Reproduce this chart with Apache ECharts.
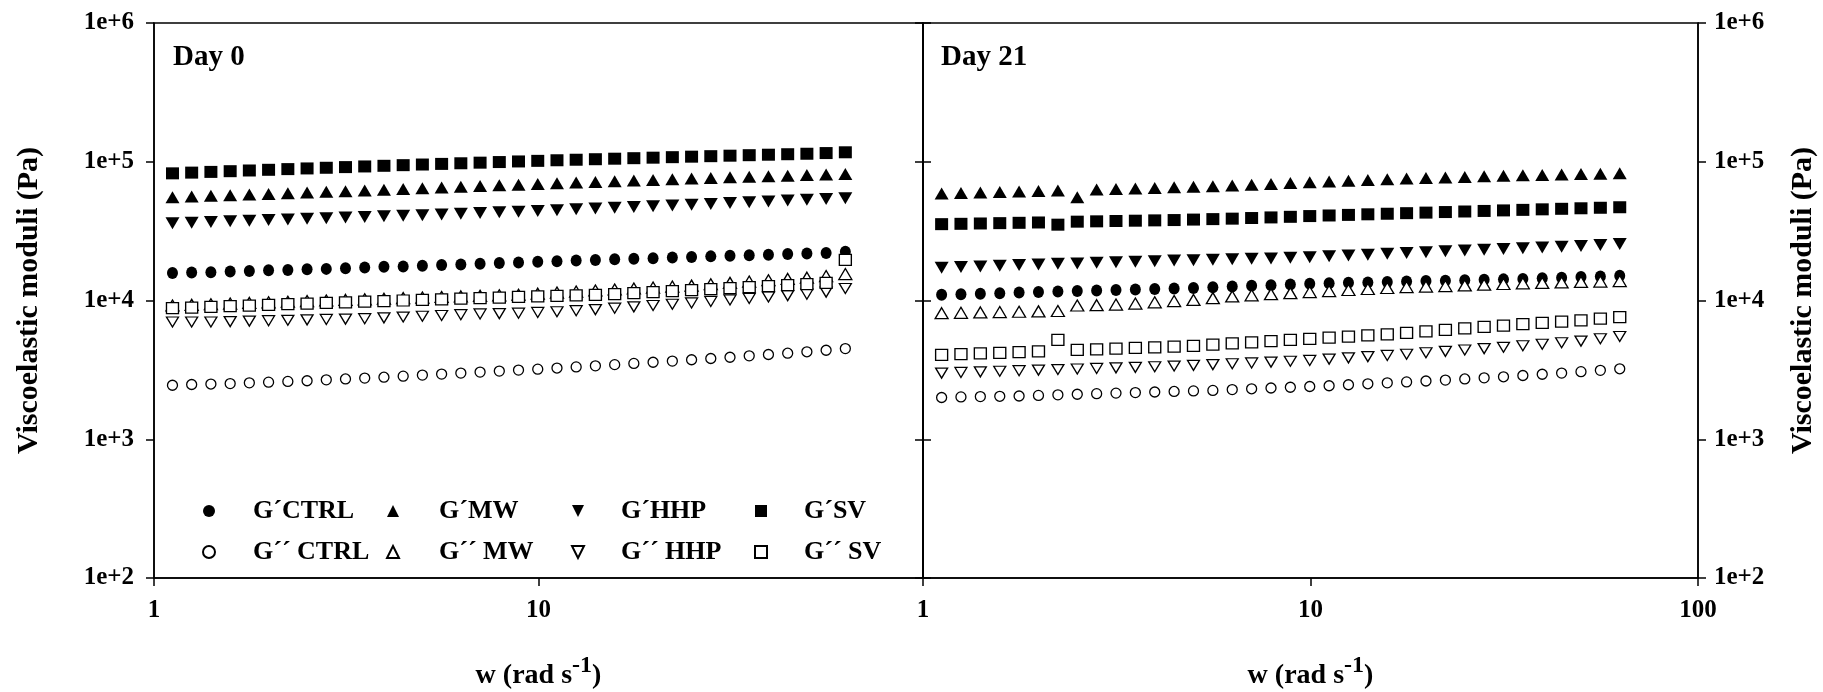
<!DOCTYPE html>
<html>
<head>
<meta charset="utf-8">
<script src="https://cdn.jsdelivr.net/npm/echarts@6/dist/echarts.min.js"></script>
<style>
  html, body { margin: 0; background: #fff; }
  #chart { width: 1823px; height: 692px; }
</style>
</head>
<body>
<div id="chart"></div>
<script>
// frequency sweep (rad/s), same for both days
const freq = [1.117, 1.253, 1.406, 1.578, 1.770, 1.986, 2.229, 2.501, 2.806, 3.148, 3.532, 3.963,
  4.447, 4.989, 5.598, 6.281, 7.048, 7.908, 8.872, 9.955, 11.17, 12.53, 14.06, 15.78,
  17.70, 19.86, 22.29, 25.01, 28.06, 31.48, 35.32, 39.63, 44.47, 49.89, 55.98, 62.81];

// Day 0 (values in Pa)
const d0GpCtrl = [15800, 15900, 16000, 16200, 16300, 16500, 16600, 16800, 16900, 17100, 17300, 17500,
  17600, 17800, 18000, 18200, 18400, 18600, 18800, 19000, 19200, 19400, 19600, 19800,
  20000, 20200, 20400, 20600, 20800, 21000, 21200, 21400, 21600, 21800, 22000, 22500];
const d0GppCtrl = [2450, 2480, 2500, 2520, 2550, 2580, 2610, 2640, 2680, 2720, 2760, 2800,
  2850, 2900, 2950, 3000, 3050, 3100, 3150, 3200, 3260, 3320, 3380, 3450,
  3520, 3590, 3660, 3740, 3820, 3900, 3990, 4080, 4170, 4270, 4380, 4500];
const d0GpMw = [55500, 56200, 56800, 57400, 58000, 58600, 59300, 60000, 60700, 61400, 62100, 62900,
  63600, 64400, 65200, 66000, 66800, 67600, 68400, 69200, 70000, 70800, 71600, 72400,
  73200, 74000, 74800, 75600, 76400, 77200, 78000, 78700, 79400, 80100, 80900, 81700];
const d0GppMw = [9200, 9300, 9400, 9500, 9600, 9700, 9800, 9900, 10000, 10100, 10200, 10300,
  10400, 10500, 10600, 10700, 10800, 10900, 11000, 11200, 11400, 11600, 11800, 12000,
  12200, 12400, 12600, 12800, 13100, 13400, 13700, 14000, 14300, 14600, 15000, 15500];
const d0GpHhp = [36000, 36400, 36800, 37200, 37600, 38000, 38400, 38800, 39200, 39600, 40000, 40400,
  40800, 41200, 41700, 42200, 42700, 43200, 43700, 44200, 44800, 45400, 46000, 46600,
  47200, 47800, 48400, 49000, 49700, 50400, 51100, 51800, 52500, 53200, 53900, 54600];
const d0GppHhp = [7000, 7000, 7000, 7050, 7100, 7150, 7200, 7250, 7300, 7350, 7400, 7500,
  7600, 7700, 7800, 7900, 8000, 8050, 8100, 8200, 8300, 8450, 8600, 8800,
  9000, 9200, 9400, 9600, 9850, 10100, 10350, 10600, 10850, 11100, 11500, 12200];
const d0GpSv = [82500, 83500, 84500, 85500, 86500, 87500, 88500, 89500, 90500, 91500, 92500, 93500,
  94500, 95500, 96500, 97500, 98500, 99500, 100500, 101500, 102500, 103400, 104300, 105200,
  106100, 107000, 107900, 108800, 109700, 110600, 111500, 112400, 113300, 114200, 115500, 117000];
const d0GppSv = [8800, 8900, 9000, 9100, 9200, 9300, 9400, 9500, 9600, 9700, 9800, 9900,
  10000, 10100, 10200, 10300, 10400, 10500, 10600, 10700, 10800, 10900, 11000, 11100,
  11300, 11500, 11700, 11900, 12100, 12300, 12500, 12700, 12900, 13100, 13400, 19600];

// Day 21 (values in Pa)
const d21GpCtrl = [11000, 11100, 11200, 11300, 11400, 11500, 11600, 11700, 11800, 11900, 12000, 12100,
  12200, 12300, 12450, 12600, 12750, 12900, 13050, 13200, 13300, 13400, 13500, 13600,
  13700, 13800, 13900, 14000, 14100, 14200, 14300, 14450, 14600, 14750, 14900, 15100];
const d21GppCtrl = [2000, 2020, 2030, 2040, 2050, 2070, 2090, 2110, 2130, 2150, 2170, 2190,
  2210, 2230, 2250, 2280, 2310, 2340, 2370, 2400, 2430, 2470, 2510, 2550,
  2590, 2630, 2670, 2720, 2770, 2820, 2880, 2940, 3000, 3070, 3140, 3220];
const d21GpMw = [59000, 59500, 60000, 60500, 61000, 61500, 62000, 55500, 63000, 63600, 64200, 64800,
  65400, 66000, 66700, 67400, 68300, 69200, 70200, 71200, 72200, 73100, 74000, 74800,
  75600, 76400, 77100, 77800, 78500, 79200, 79800, 80400, 81000, 81500, 82000, 82600];
const d21GppMw = [8100, 8150, 8200, 8250, 8300, 8350, 8400, 9200, 9250, 9350, 9500, 9700,
  9900, 10100, 10400, 10700, 10900, 11100, 11300, 11500, 11700, 11900, 12100, 12300,
  12500, 12600, 12700, 12850, 13000, 13150, 13300, 13400, 13500, 13600, 13700, 13800];
const d21GpHhp = [17200, 17400, 17600, 17800, 18000, 18200, 18400, 18500, 18700, 18900, 19000, 19200,
  19400, 19500, 19700, 19800, 20000, 20100, 20300, 20500, 20800, 21100, 21400, 21700,
  22000, 22300, 22600, 22900, 23200, 23500, 23800, 24100, 24400, 24700, 25100, 25500];
const d21GppHhp = [3000, 3030, 3060, 3090, 3120, 3150, 3180, 3210, 3240, 3270, 3300, 3330,
  3370, 3410, 3450, 3500, 3550, 3600, 3650, 3700, 3780, 3860, 3940, 4020,
  4100, 4200, 4300, 4400, 4500, 4600, 4720, 4840, 4960, 5100, 5300, 5500];
const d21GpSv = [35500, 35700, 35900, 36100, 36300, 36500, 35200, 37000, 37200, 37400, 37600, 37800,
  38000, 38300, 38600, 38900, 39300, 39700, 40100, 40600, 41000, 41400, 41800, 42200,
  42600, 43000, 43400, 43800, 44200, 44600, 45000, 45400, 45800, 46200, 46600, 47000];
const d21GppSv = [4050, 4100, 4150, 4200, 4250, 4300, 5200, 4400, 4450, 4500, 4550, 4600,
  4650, 4700, 4800, 4900, 5000, 5100, 5200, 5300, 5400, 5500, 5600, 5700,
  5850, 6000, 6150, 6300, 6450, 6600, 6750, 6900, 7050, 7200, 7400, 7600];

const yTicks = ['1e+2', '1e+3', '1e+4', '1e+5', '1e+6'];
const names = ['G´CTRL', 'G´´ CTRL', 'G´MW', 'G´´ MW', 'G´HHP', 'G´´ HHP', 'G´SV', 'G´´ SV'];

const FONT = 'Liberation Serif';
const downTri = 'path://M0,0L2,0L1,2Z';

// 符号设置: [symbol, size, filled]
const marks = {
  'G´CTRL': ['circle', [11, 12], true],
  'G´´ CTRL': ['circle', [10, 10], false],
  'G´MW': ['triangle', [14, 12], true],
  'G´´ MW': ['triangle', [13, 11], false],
  'G´HHP': [downTri, [14, 12], true],
  'G´´ HHP': [downTri, [12, 10], false],
  'G´SV': ['rect', [13, 12], true],
  'G´´ SV': ['rect', [12, 11], false]
};

const day0 = [d0GpCtrl, d0GppCtrl, d0GpMw, d0GppMw, d0GpHhp, d0GppHhp, d0GpSv, d0GppSv];
const day21 = [d21GpCtrl, d21GppCtrl, d21GpMw, d21GppMw, d21GpHhp, d21GppHhp, d21GpSv, d21GppSv];

function makeSeries(name, vals, gridIdx) {
  const m = marks[name];
  return {
    name: name,
    type: 'scatter',
    xAxisIndex: gridIdx,
    yAxisIndex: gridIdx === 0 ? 0 : 2,
    symbol: m[0],
    symbolSize: m[1],
    itemStyle: m[2]
      ? { color: '#000', opacity: 1 }
      : { color: '#fff', borderColor: '#000', borderWidth: 1.3, opacity: 1 },
    data: freq.map((f, i) => [f, vals[i]])
  };
}

const series = [];
names.forEach((n, i) => series.push(makeSeries(n, day0[i], 0)));
names.forEach((n, i) => series.push(makeSeries(n, day21[i], 1)));

const lineStyle = { color: '#000', width: 1.5 };
const labelFont = { fontFamily: FONT, fontWeight: 'bold', fontSize: 25, color: '#000' };

function xAx(gridIdx) {
  return {
    type: 'log', logBase: 10, min: 1, max: 100, gridIndex: gridIdx,
    axisLine: { show: true, lineStyle: lineStyle },
    axisTick: { show: true, length: 8, lineStyle: lineStyle },
    axisLabel: Object.assign({ margin: 20, showMinLabel: true, showMaxLabel: gridIdx === 1 }, labelFont),
    splitLine: { show: false },
    minorTick: { show: false },
    name: '{a|w (rad s}{s|-1}{a|)}',
    nameLocation: 'middle',
    nameGap: 76,
    nameTextStyle: {
      rich: {
        a: { fontFamily: FONT, fontWeight: 'bold', fontSize: 28, lineHeight: 44, color: '#000' },
        s: { fontFamily: FONT, fontWeight: 'bold', fontSize: 24, lineHeight: 24, verticalAlign: 'top', color: '#000' }
      }
    }
  };
}

function yAx(gridIdx, pos, withLabel) {
  return {
    type: 'log', logBase: 10, min: 100, max: 1000000, gridIndex: gridIdx, position: pos,
    axisLine: { show: true, lineStyle: lineStyle },
    axisTick: { show: true, length: 8, lineStyle: lineStyle },
    axisLabel: Object.assign({
      show: withLabel,
      margin: pos === 'left' ? 20 : 16,
      showMinLabel: true, showMaxLabel: true,
      formatter: v => yTicks[Math.round(Math.log10(v)) - 2]
    }, labelFont),
    splitLine: { show: false },
    name: withLabel ? 'Viscoelastic moduli (Pa)' : '',
    nameLocation: 'middle',
    nameRotate: 90,
    nameGap: pos === 'left' ? 110 : 90,
    nameTextStyle: { fontFamily: FONT, fontWeight: 'bold', fontSize: 30, color: '#000' }
  };
}

// legend: 4 columns, 2 rows each
const legendCols = [
  { left: 202, gap: 33, data: ['G´CTRL', 'G´´ CTRL'] },
  { left: 386, gap: 35, data: ['G´MW', 'G´´ MW'] },
  { left: 571, gap: 32, data: ['G´HHP', 'G´´ HHP'] },
  { left: 754, gap: 32, data: ['G´SV', 'G´´ SV'] }
];
const legends = legendCols.map(c => ({
  left: c.left, top: 498, orient: 'vertical', padding: 0,
  itemWidth: 12, itemHeight: 12, itemGap: 15,
  selectedMode: false,
  data: c.data,
  formatter: n => '{g|}{t|' + n + '}',
  textStyle: {
    rich: {
      g: { width: c.gap, height: 10 },
      t: { fontFamily: FONT, fontWeight: 'bold', fontSize: 26, lineHeight: 28, color: '#000' }
    }
  }
}));

const chart = echarts.init(document.getElementById('chart'));
chart.setOption({
  animation: false,
  backgroundColor: '#fff',
  title: [
    { text: 'Day 0', left: 168, top: 38, textStyle: { fontFamily: FONT, fontWeight: 'bold', fontSize: 29, color: '#000' } },
    { text: 'Day 21', left: 936, top: 38, textStyle: { fontFamily: FONT, fontWeight: 'bold', fontSize: 29, color: '#000' } }
  ],
  legend: legends,
  grid: [
    { left: 154, top: 23, width: 769, height: 555, show: true, borderColor: '#000', borderWidth: 1.5, outerBoundsMode: 'none' },
    { left: 923, top: 23, width: 775, height: 555, show: true, borderColor: '#000', borderWidth: 1.5, outerBoundsMode: 'none' }
  ],
  xAxis: [xAx(0), xAx(1)],
  yAxis: [yAx(0, 'left', true), yAx(0, 'right', false), yAx(1, 'left', false), yAx(1, 'right', true)],
  series: series
});
</script>
</body>
</html>
